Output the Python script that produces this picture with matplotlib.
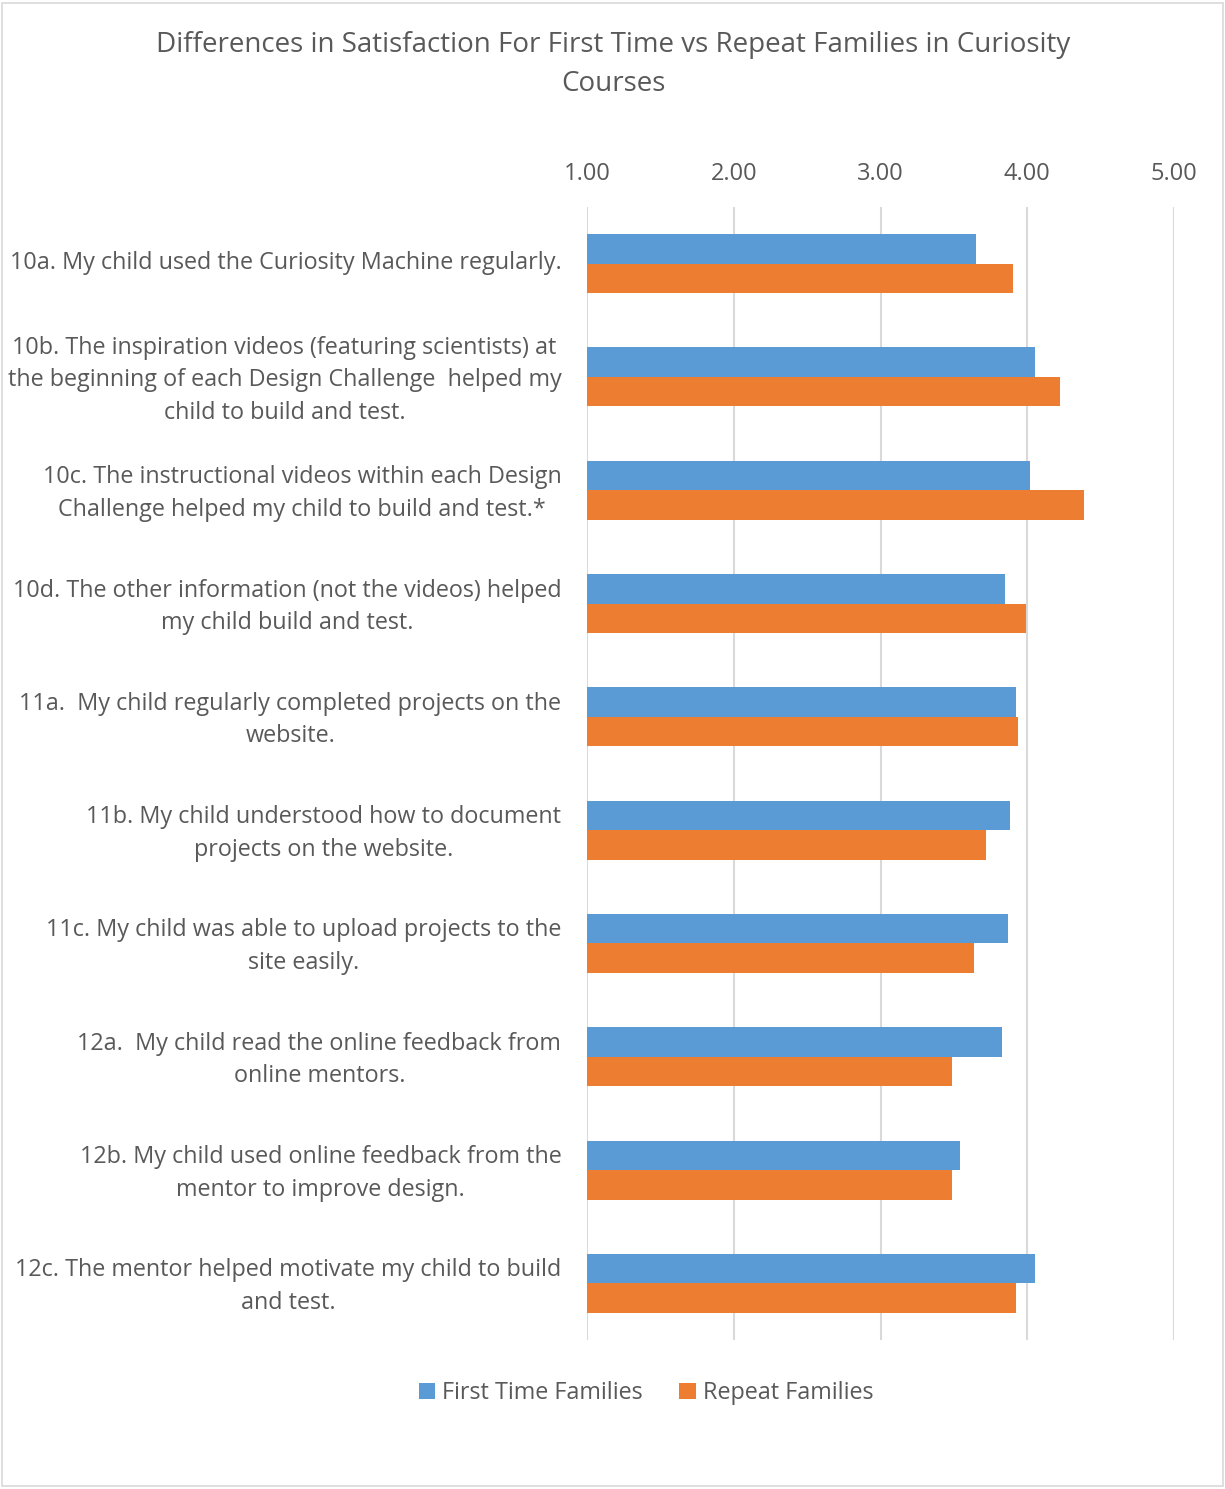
import matplotlib
matplotlib.use('Agg')
import matplotlib.pyplot as plt
from matplotlib.patches import Rectangle
from matplotlib.transforms import ScaledTranslation
import numpy as np

# Survey items (wrapped as in the original chart)
questions = [
    '10a. My child used the Curiosity Machine regularly.',
    '10b. The inspiration videos (featuring scientists) at\nthe beginning of each Design Challenge  helped my\nchild to build and test.',
    '10c. The instructional videos within each Design\nChallenge helped my child to build and test.*',
    '10d. The other information (not the videos) helped\nmy child build and test.',
    '11a.  My child regularly completed projects on the\nwebsite.',
    '11b. My child understood how to document\nprojects on the website.',
    '11c. My child was able to upload projects to the\nsite easily.',
    '12a.  My child read the online feedback from\nonline mentors.',
    '12b. My child used online feedback from the\nmentor to improve design.',
    '12c. The mentor helped motivate my child to build\nand test.',
]
first_time = [3.65, 4.05, 4.02, 3.85, 3.92, 3.88, 3.87, 3.83, 3.54, 4.05]
repeat = [3.90, 4.22, 4.39, 3.99, 3.94, 3.72, 3.64, 3.49, 3.49, 3.92]
ticks = [1, 2, 3, 4, 5]

BLUE = '#5B9BD5'
ORANGE = '#ED7D31'
TEXT = '#595959'
plt.rcParams['font.family'] = ['Open Sans', 'DejaVu Sans']

fig = plt.figure(figsize=(12.25, 14.89), dpi=100)
ax = fig.add_axes([587 / 1225, 1 - 1340 / 1489, 587 / 1225, 1133 / 1489])

y = np.arange(len(questions))
h = 0.26
ax.barh(y - h / 2, np.array(first_time) - 1, left=1, height=h, color=BLUE,
        label='First Time Families', zorder=3)
ax.barh(y + h / 2, np.array(repeat) - 1, left=1, height=h, color=ORANGE,
        label='Repeat Families', zorder=3)

ax.set_xlim(1, 5)
ax.set_ylim(len(questions) - 0.5, -0.5)
ax.set_xticks(ticks)
ax.set_xticklabels([f'{t:.2f}' for t in ticks], fontsize=17, color=TEXT)
ax.xaxis.tick_top()
ax.tick_params(axis='x', length=0, pad=15)
ax.grid(axis='x', color='#D9D9D9', linewidth=1.5, zorder=0)
ax.set_yticks(y)
ax.set_yticklabels(questions, fontsize=16.8, color=TEXT, multialignment='center',
                   linespacing=1.47)
ax.tick_params(axis='y', length=0, pad=18.5)
# nudge labels up slightly
for lbl in ax.get_yticklabels():
    lbl.set_transform(lbl.get_transform() + ScaledTranslation(0, 4 / 100, fig.dpi_scale_trans))
for s in ax.spines.values():
    s.set_visible(False)

fig.text(613 / 1225, 1 - 64.5 / 1489,
         'Differences in Satisfaction For First Time vs Repeat Families in Curiosity\nCourses',
         ha='center', va='center', fontsize=20, color=TEXT, linespacing=1.5)

fig.legend(loc='center', bbox_to_anchor=(646 / 1225, 1 - 1393 / 1489), ncol=2,
           frameon=False, fontsize=16.8, labelcolor=TEXT, handlelength=0.7,
           handleheight=0.7, handletextpad=0.3, columnspacing=1.57)

# outer chart border
fig.patches.append(Rectangle((2 / 1225, 3 / 1489), 1221 / 1225, 1483 / 1489,
                             transform=fig.transFigure, fill=False,
                             edgecolor='#D9D9D9', linewidth=1.2))

fig.savefig('out.png', dpi=100)
